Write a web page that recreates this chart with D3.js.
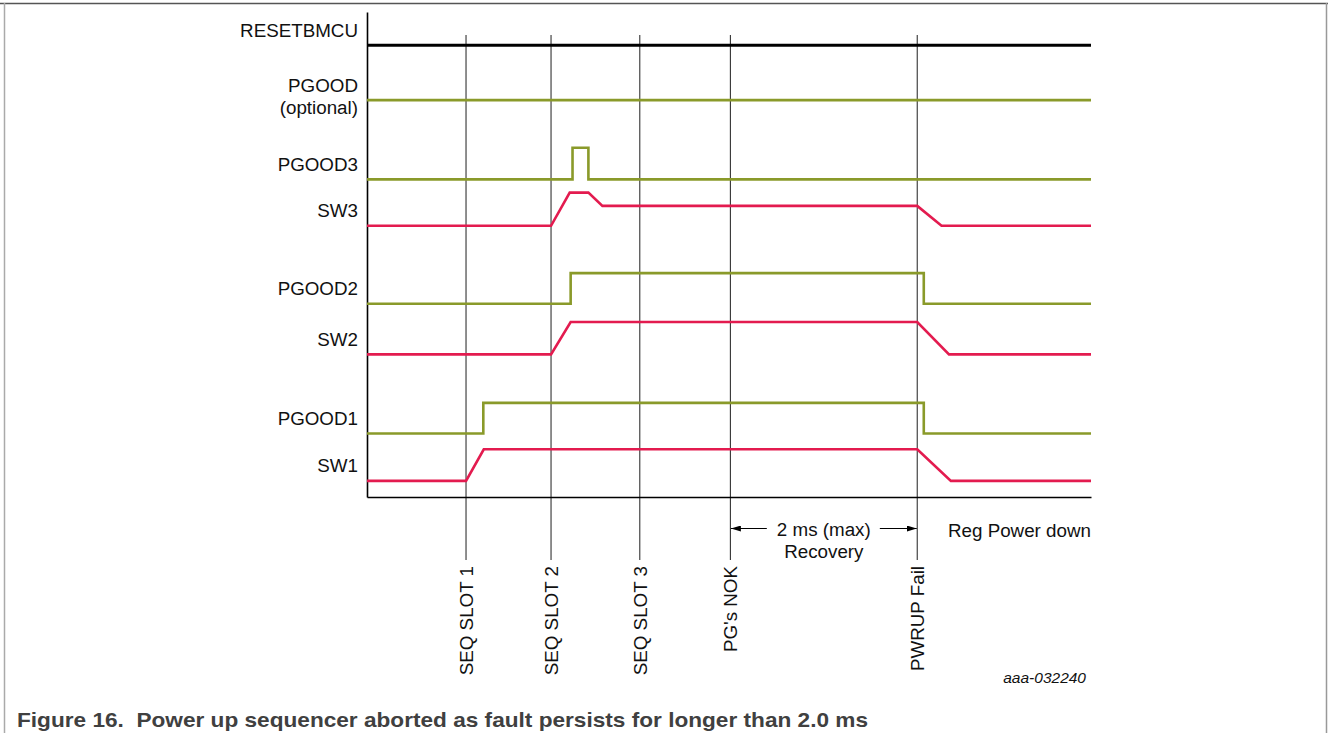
<!DOCTYPE html>
<html>
<head>
<meta charset="utf-8">
<script src="https://cdn.jsdelivr.net/npm/d3@7"></script>
<style>
    body { margin: 0; background: #fff; }
    svg { display: block; font-family: "Liberation Sans", Arial, sans-serif; }
</style>
</head>
<body>
<svg width="1328" height="733"></svg>
<script>
// Signal rows, top to bottom
const signalNames = ["RESETBMCU", "PGOOD\n(optional)", "PGOOD3", "SW3", "PGOOD2", "SW2", "PGOOD1", "SW1"];
const signalKinds = ["reset", "pgood", "pgood", "sw", "pgood", "sw", "pgood", "sw"];
const signalBase  = [55.9, 49.1, 39.3, 33.55, 23.9, 17.65, 7.85, 2.0];	// low level, in row units
const signalAmp   = [0, 0, 3.9, 4.1, 3.8, 4.0, 3.8, 3.9];				// high level minus low level

// Waveforms as [time (ms), level 0..1]
const waveRESET  = [[0, 0], [7.75, 0]];
const wavePGOOD  = [[0, 0], [7.75, 0]];
const wavePGOOD3 = [[0, 0], [2.20, 0], [2.20, 1], [2.37, 1], [2.37, 0], [7.75, 0]];
const waveSW3    = [[0, 0], [1.97, 0], [2.17, 1], [2.37, 1], [2.52, 0.6], [5.89, 0.6], [6.15, 0], [7.75, 0]];
const wavePGOOD2 = [[0, 0], [2.18, 0], [2.18, 1], [5.96, 1], [5.96, 0], [7.75, 0]];
const waveSW2    = [[0, 0], [1.97, 0], [2.18, 1], [5.89, 1], [6.23, 0], [7.75, 0]];
const wavePGOOD1 = [[0, 0], [1.245, 0], [1.245, 1], [5.96, 1], [5.96, 0], [7.75, 0]];
const waveSW1    = [[0, 0], [1.06, 0], [1.25, 1], [5.89, 1], [6.25, 0], [7.75, 0]];
const waves = [waveRESET, wavePGOOD, wavePGOOD3, waveSW3, wavePGOOD2, waveSW2, wavePGOOD1, waveSW1];

// Event markers
const eventNames = ["SEQ SLOT 1", "SEQ SLOT 2", "SEQ SLOT 3", "PG's NOK", "PWRUP Fail"];
const eventTimes = [1.06, 1.97, 2.92, 3.89, 5.89];

// Recovery span (between PG's NOK and PWRUP Fail)
const spanFrom = 3.89;
const spanTo = 5.89;
const spanLabels = ["2 ms (max)", "Recovery"];
const afterLabel = "Reg Power down";
const figureId = "aaa-032240";
const caption = "Figure 16.  Power up sequencer aborted as fault persists for longer than 2.0 ms";

const colors = { reset: "#000000", pgood: "#8a9a2a", sw: "#e31b4f" };
const widths = { reset: 3, pgood: 2.6, sw: 2.6 };
const fontSize = "18.8px";

const svg = d3.select("svg");
const x = d3.scaleLinear().domain([0, 7.75]).range([367, 1091]);
const y = d3.scaleLinear().domain([0, 60]).range([497, 12]);

// Figure frame
svg.append("line").attr("x1", 0).attr("x2", 1328).attr("y1", 3.5).attr("y2", 3.5)
    .attr("stroke", "#555").attr("stroke-width", 1.5);
svg.append("line").attr("x1", 4.5).attr("x2", 4.5).attr("y1", 3).attr("y2", 733)
    .attr("stroke", "#aaa").attr("stroke-width", 1.5);
svg.append("line").attr("x1", 1326.5).attr("x2", 1326.5).attr("y1", 3).attr("y2", 733)
    .attr("stroke", "#999").attr("stroke-width", 1.5);

// Event marker lines
svg.selectAll(".marker").data(eventTimes).enter().append("line")
    .attr("class", "marker")
    .attr("x1", d => x(d)).attr("x2", d => x(d))
    .attr("y1", 35).attr("y2", 560)
    .attr("stroke", "#333").attr("stroke-width", 1.1);

// Axes (only the domain lines are shown)
svg.append("g").attr("transform", "translate(0," + y(0) + ")")
    .call(d3.axisBottom(x).tickValues([]).tickSizeOuter(0))
    .select(".domain").attr("stroke", "#000").attr("stroke-width", 1.6);
svg.append("g").attr("transform", "translate(" + x(0) + ",0)")
    .call(d3.axisLeft(y).tickValues([]).tickSizeOuter(0))
    .select(".domain").attr("stroke", "#000").attr("stroke-width", 1.6);

// Waveforms
const line = (i) => d3.line()
    .x(d => x(d[0]))
    .y(d => y(signalBase[i] + d[1] * signalAmp[i]));

waves.forEach((w, i) => {
    svg.append("path")
        .datum(w)
        .attr("d", line(i))
        .attr("fill", "none")
        .attr("stroke", colors[signalKinds[i]])
        .attr("stroke-width", widths[signalKinds[i]])
        .attr("stroke-linejoin", "miter");
});

// Signal names, right aligned left of the axis
signalNames.forEach((name, i) => {
    const t = svg.append("text")
        .attr("x", x(0) - 9)
        .attr("y", y(signalBase[i]) - 8.5)
        .attr("text-anchor", "end")
        .attr("font-size", fontSize)
        .attr("fill", "#111");
    name.split("\n").forEach((part, k) => {
        t.append("tspan").attr("x", x(0) - 9).attr("dy", k === 0 ? 0 : 22).text(part);
    });
});

// Rotated event labels under the markers
svg.selectAll(".evlabel").data(eventTimes).enter().append("text")
    .attr("class", "evlabel")
    .attr("transform", d => "translate(" + x(d) + ",566) rotate(-90)")
    .attr("text-anchor", "end")
    .attr("dy", "0.36em")
    .attr("font-size", fontSize)
    .attr("fill", "#111")
    .text((d, i) => eventNames[i]);

// Recovery span arrows
const defs = svg.append("defs");
defs.append("marker").attr("id", "head")
    .attr("viewBox", "0 0 10 6").attr("refX", 10).attr("refY", 3)
    .attr("markerWidth", 10).attr("markerHeight", 6)
    .attr("markerUnits", "userSpaceOnUse")
    .attr("orient", "auto")
    .append("path").attr("d", "M0,0L10,3L0,6Z").attr("fill", "#000");

const spanMid = (x(spanFrom) + x(spanTo)) / 2;
svg.append("line")
    .attr("x1", spanMid - 57).attr("x2", x(spanFrom) + 0.5)
    .attr("y1", 528.5).attr("y2", 528.5)
    .attr("stroke", "#000").attr("stroke-width", 1.2)
    .attr("marker-end", "url(#head)");
svg.append("line")
    .attr("x1", spanMid + 56).attr("x2", x(spanTo) - 0.5)
    .attr("y1", 528.5).attr("y2", 528.5)
    .attr("stroke", "#000").attr("stroke-width", 1.2)
    .attr("marker-end", "url(#head)");
spanLabels.forEach((s, k) => {
    svg.append("text")
        .attr("x", spanMid).attr("y", 536 + k * 22)
        .attr("text-anchor", "middle")
        .attr("font-size", fontSize)
        .attr("fill", "#111")
        .text(s);
});

svg.append("text")
    .attr("x", x(7.75)).attr("y", 536.5)
    .attr("text-anchor", "end")
    .attr("font-size", fontSize)
    .attr("fill", "#111")
    .text(afterLabel);

svg.append("text")
    .attr("x", 1086).attr("y", 683)
    .attr("text-anchor", "end")
    .attr("font-size", "15.5px")
    .attr("font-style", "italic")
    .attr("fill", "#111")
    .text(figureId);

svg.append("text")
    .attr("x", 17).attr("y", 726.5)
    .attr("font-size", "21px")
    .attr("font-weight", "bold")
    .attr("fill", "#404040")
    .attr("textLength", 851)
    .attr("lengthAdjust", "spacingAndGlyphs")
    .style("white-space", "pre")
    .text(caption);
</script>
</body>
</html>
